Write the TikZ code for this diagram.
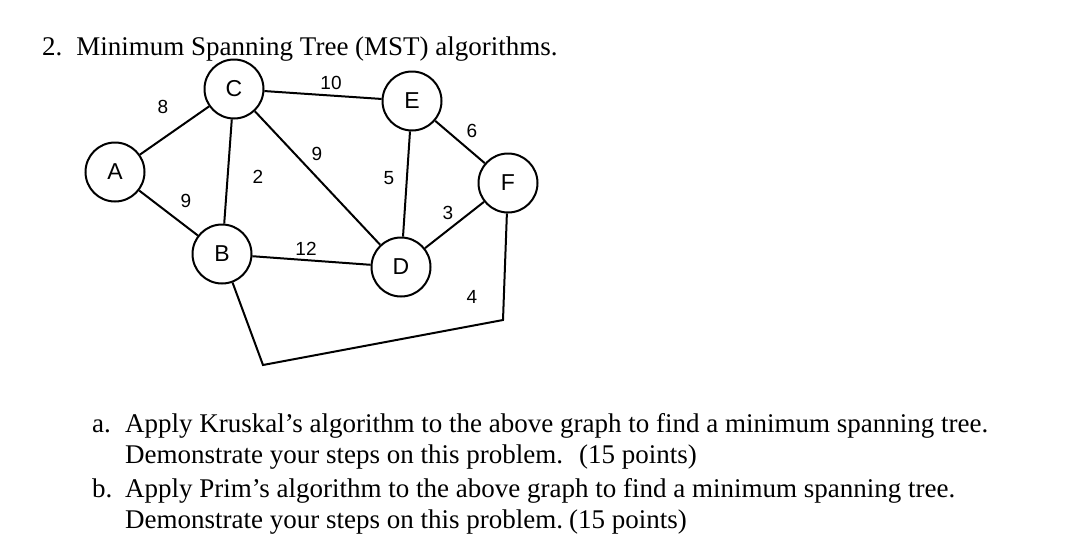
\documentclass[tikz,border=0pt]{standalone}
\usepackage{fontspec}
\setmainfont{Liberation Serif}
\newfontfamily\arial{Liberation Sans}
\begin{document}
\begin{tikzpicture}[x=1pt,y=-1pt,
  vert/.style={circle,draw,line width=2pt,minimum size=59pt,inner sep=0pt,font=\arial\fontsize{23}{23}\selectfont},
  edge/.style={line width=2pt},
  wt/.style={font=\arial\fontsize{19}{19}\selectfont},
  txt/.style={anchor=base west,inner sep=0pt,font=\fontsize{27}{30}\selectfont}]
\useasboundingbox (0,0) rectangle (1084,558);
\node[vert] (A) at (115,172) {A};
\node[vert] (C) at (234,89) {C};
\node[vert] (E) at (412,101) {E};
\node[vert] (F) at (508,183) {F};
\node[vert] (B) at (222,254) {B};
\node[vert] (D) at (401,267) {D};
\coordinate (p1) at (503,320);
\coordinate (p2) at (263,365);
\draw[edge] (A) -- (C);
\draw[edge] (A) -- (B);
\draw[edge] (C) -- (E);
\draw[edge] (C) -- (B);
\draw[edge] (C) -- (D);
\draw[edge] (E) -- (D);
\draw[edge] (E) -- (F);
\draw[edge] (D) -- (F);
\draw[edge] (B) -- (D);
\draw[edge] (B) -- (p2) -- (p1) -- (F);
\node[wt] (w1) at (163,107) {8};
\node[wt] (w2) at (331,83) {10};
\node[wt] (w3) at (186,201) {9};
\node[wt] (w4) at (258,177) {2};
\node[wt] (w5) at (317,154) {9};
\node[wt] (w6) at (389,178) {5};
\node[wt] (w7) at (472,131) {6};
\node[wt] (w8) at (448,213) {3};
\node[wt] (w9) at (306,249) {12};
\node[wt] (w10) at (472,297) {4};
\node[txt] (t0) at (42,55) {2.\hspace{14pt}Minimum Spanning Tree (MST) algorithms.};
\node[txt] (ta) at (92,432) {a.};
\node[txt] (t1) at (125,432) {Apply Kruskal’s algorithm to the above graph to find a minimum spanning tree.};
\node[txt] (t2) at (125,463) {Demonstrate your steps on this problem.\hspace{16pt}(15 points)};
\node[txt] (tb) at (92,497) {b.};
\node[txt] (t3) at (125,497) {Apply Prim’s algorithm to the above graph to find a minimum spanning tree.};
\node[txt] (t4) at (125,528) {Demonstrate your steps on this problem.\hspace{6pt}(15 points)};
\end{tikzpicture}
\end{document}
